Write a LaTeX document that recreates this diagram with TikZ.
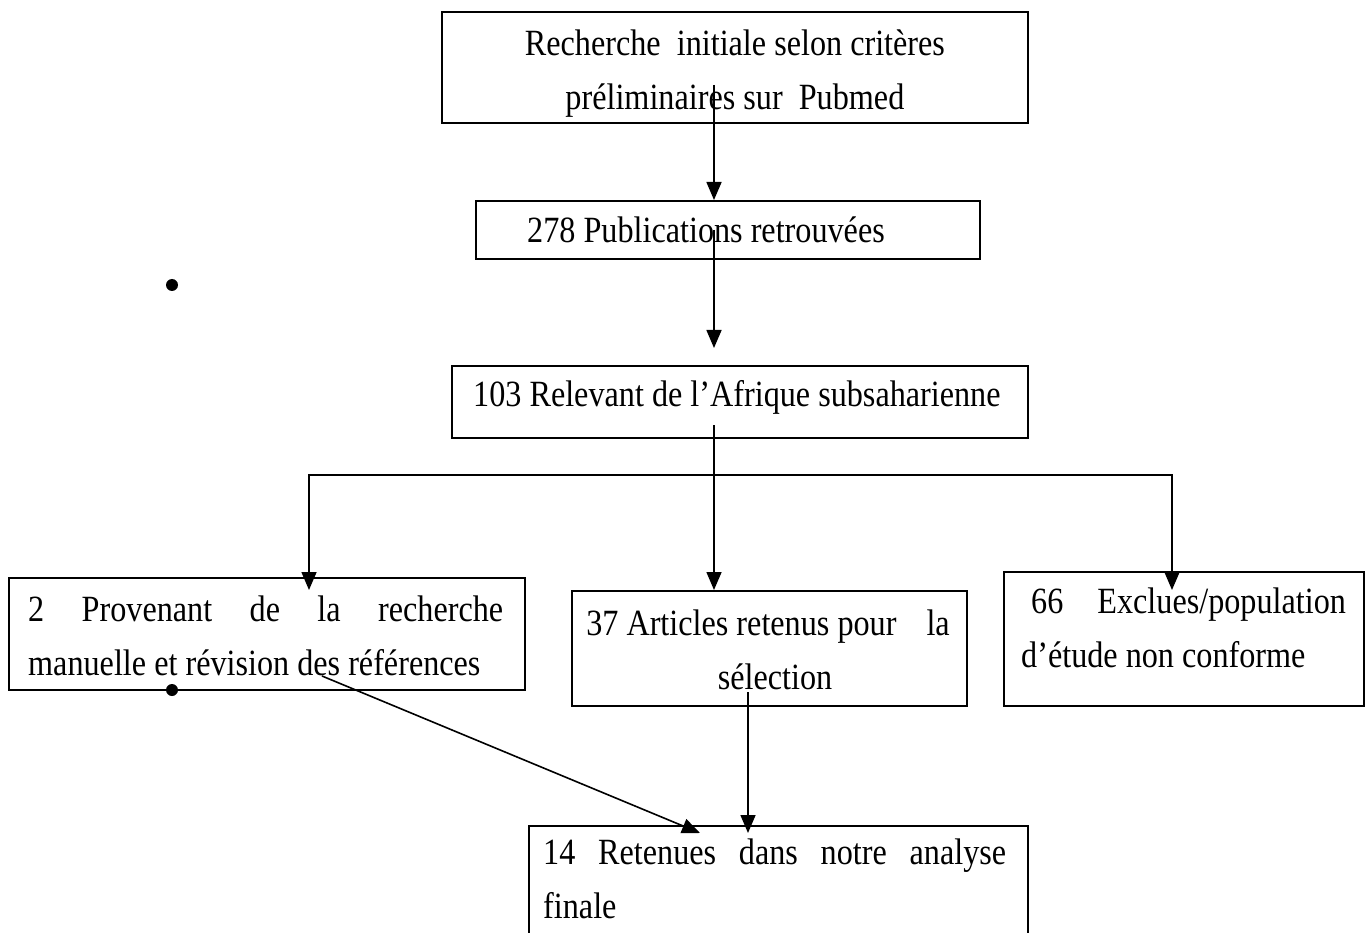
\documentclass[tikz,border=0pt]{standalone}
\usepackage{fontspec}
\setmainfont{Liberation Serif}[FakeStretch=0.87]
\usetikzlibrary{arrows.meta}
\tikzset{
  box/.style={draw, line width=1.8pt, rectangle, inner sep=0pt, anchor=north west},
  txt/.style={inner sep=0pt, font=\fontsize{37}{54}\selectfont},
  arr/.style={line width=1.6pt, -{Triangle[length=18pt,width=15pt]}},
  arrb/.style={line width=1.6pt, {Triangle[length=18pt,width=15pt]}-{Triangle[length=18pt,width=15pt]}},
  dot/.style={circle, fill, inner sep=0pt, minimum size=12pt}
}
\begin{document}
\begin{tikzpicture}[x=1pt,y=-1pt]
\useasboundingbox (0,0) rectangle (1366,933);
\clip (0,0) rectangle (1366,933);
% boxes
\node[box, minimum width=586pt, minimum height=111pt] (b1) at (441,11) {};
\node[box, minimum width=504pt, minimum height=58pt] (b2) at (475,200) {};
\node[box, minimum width=576pt, minimum height=72pt] (b3) at (451,365) {};
\node[box, minimum width=516pt, minimum height=112pt] (b4) at (8,577) {};
\node[box, minimum width=395pt, minimum height=115pt] (b5) at (571,590) {};
\node[box, minimum width=360pt, minimum height=134pt] (b6) at (1003,571) {};
\node[box, minimum width=499pt, minimum height=140pt] (b7) at (528,825) {};
% texts
\node[txt, align=center] (t1) at ([yshift=-6pt]b1.center) {Recherche\ \ initiale selon critères\\préliminaires sur\ \ Pubmed};
\node[txt, anchor=west] (t2) at (527,230) {278 Publications retrouvées};
\node[txt, anchor=west] (t3) at (473,397) {103 Relevant de l’Afrique subsaharienne};
\node[txt, anchor=north west, text width=475pt, align=justify] (t4) at (28,596) {2 Provenant de la recherche\linebreak manuelle et révision des références};
\node[txt, anchor=north, align=center] (t5) at (768,610) {37 Articles retenus pour\hspace{30pt}la\\\hspace*{14pt}sélection};
\node[txt, anchor=north west, align=left] (t6) at (1021,588) {\hspace*{10pt}66\hspace{26pt} Exclues/population\\d’étude non conforme};
\node[txt, anchor=north west, text width=463pt, align=justify] (t7) at (543,839) {14 Retenues dans notre analyse\linebreak finale};
% bullets
\node[dot] (d1) at (172,285) {};
\node[dot] (d2) at (172,690) {};
% connector points
\coordinate (s1) at (714,85);
\coordinate (s2) at (714,230);
\coordinate (s3) at (714,425);
\coordinate (hl) at (309,475);
\coordinate (hr) at (1172,475);
\coordinate (e4) at (309,590);
\coordinate (e6) at (1172,590);
\coordinate (s5) at (748,692);
\coordinate (s4) at (322,676);
\coordinate (e7) at (700,833);
\coordinate (e5) at (748,833);
% connectors
\draw[arr] (s1) -- (s1 |- b2.north);
\draw[arr, shorten >=17pt] (s2) -- (s2 |- b3.north);
\draw[arr] (s3) -- (s3 |- b5.north);
\draw[arrb] (e4) -- (hl) -- (hr) -- (e6);
\draw[arr] (s5) -- (e5);
\draw[arr] (s4) -- (e7);
\end{tikzpicture}
\end{document}
